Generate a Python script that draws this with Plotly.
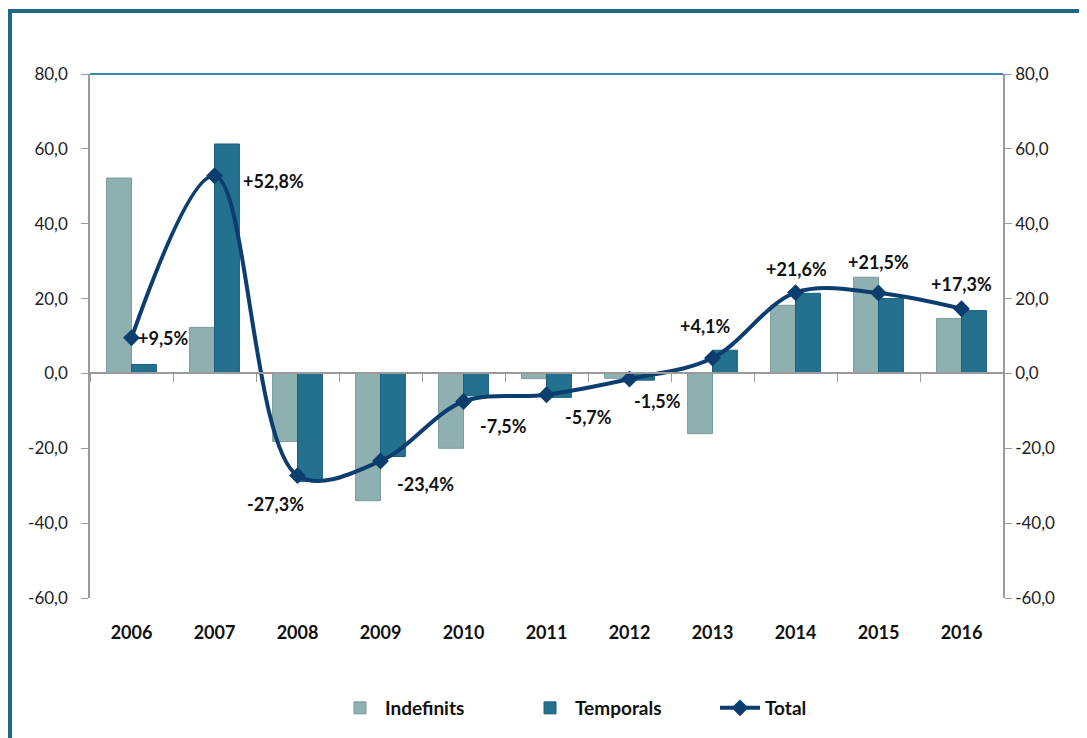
import plotly.graph_objects as go

years = ["2006", "2007", "2008", "2009", "2010", "2011", "2012", "2013", "2014", "2015", "2016"]
indefinits = [52.2, 12.3, -18.2, -34.0, -20.0, -1.4, -1.3, -16.1, 18.2, 25.7, 14.7]
temporals = [2.4, 61.3, -28.9, -22.2, -6.0, -6.4, -1.8, 6.2, 21.4, 20.0, 16.8]
total = [9.5, 52.8, -27.3, -23.4, -7.5, -5.7, -1.5, 4.1, 21.6, 21.5, 17.3]
total_labels = ["+9,5%", "+52,8%", "-27,3%", "-23,4%", "-7,5%", "-5,7%", "-1,5%",
                "+4,1%", "+21,6%", "+21,5%", "+17,3%"]
y_ticks = [80, 60, 40, 20, 0, -20, -40, -60]
y_tick_text = ["80,0", "60,0", "40,0", "20,0", "0,0", "-20,0", "-40,0", "-60,0"]

# label placement styles (anchor, shifts)
label_style = [
    ("left", 4, 0), ("left", 26, -5), ("center", -22, -28), ("left", 14, -23),
    ("left", 14, -24), ("left", 16, -22), ("left", 2, -22), ("center", -7, 32),
    ("center", 1, 24), ("center", 0, 31), ("center", 0, 25),
]

fig = go.Figure()
fig.add_trace(go.Bar(x=years, y=indefinits, name="Indefinits",
                     marker=dict(color="#8fb0b0", line=dict(color="#7a9c9c", width=1))))
fig.add_trace(go.Bar(x=years, y=temporals, name="Temporals",
                     marker=dict(color="#23708f", line=dict(color="#1c5f7a", width=1))))
fig.add_trace(go.Scatter(x=years, y=total, name="Total", xaxis="x2", yaxis="y2",
                         mode="lines+markers",
                         line=dict(color="#0b3d6f", width=4, shape="spline", smoothing=1.0),
                         marker=dict(symbol="diamond", size=13, color="#0b3d6f")))

font_family = "Lato, 'Liberation Sans', sans-serif"
annotations = []
# category axis: annotation x given as category index
for i, (v, txt, (anc, dx, dy)) in enumerate(zip(total, total_labels, label_style)):
    annotations.append(dict(x=i, y=v, xref="x", yref="y", text="<b>" + txt + "</b>",
                            showarrow=False, xanchor=anc, yanchor="middle",
                            xshift=dx, yshift=dy,
                            font=dict(family=font_family, size=18, color="#111111")))

cat_range = [-0.5, len(years) - 0.5]

# page body has an 8px margin: plot area should land at x 90..1003, y 74..598
L, T, R, B = 82, 66, 92, 148
plot_w = 1087 - L - R
plot_h = 738 - T - B

fig.update_layout(
    width=1087, height=738,
    margin=dict(l=L, r=R, t=T, b=B, autoexpand=False),
    paper_bgcolor="white", plot_bgcolor="white",
    barmode="group", bargap=0.4, bargroupgap=0.0,
    font=dict(family=font_family, size=16, color="#222222"),
    xaxis=dict(type="category", range=cat_range, showline=False, ticks="", showgrid=False,
               zeroline=False, ticklabelstandoff=22,
               tickfont=dict(family=font_family, size=18, color="#111111", weight="bold")),
    xaxis2=dict(type="category", range=cat_range, overlaying="x", anchor="free",
                position=60 / 140,
                showline=True, linecolor="#9a9a9a", linewidth=1.5,
                ticks="outside", ticklen=8, tickcolor="#9a9a9a", tickson="boundaries",
                showticklabels=False, showgrid=False, zeroline=False),
    yaxis=dict(range=[-60, 80], tickvals=y_ticks, ticktext=y_tick_text, showgrid=False,
               zeroline=False, showline=True, linecolor="#9a9a9a", linewidth=1.5,
               ticks="outside", ticklen=7, tickcolor="#9a9a9a", ticklabelstandoff=10,
               tickfont=dict(family=font_family, size=17, color="#222222")),
    yaxis2=dict(range=[-60, 80], tickvals=y_ticks, ticktext=y_tick_text, overlaying="y",
                side="right", showgrid=False, zeroline=False, showline=True,
                linecolor="#9a9a9a", linewidth=1.5, ticks="outside", ticklen=7,
                tickcolor="#9a9a9a",
                tickfont=dict(family=font_family, size=17, color="#222222")),
    legend=dict(orientation="h", x=(335 - 90) / plot_w, xanchor="left",
                y=(598 - 708) / plot_h, yanchor="middle",
                font=dict(family=font_family, size=19, color="#111111", weight="bold"),
                itemwidth=40, entrywidth=135, entrywidthmode="pixels"),
    annotations=annotations,
    shapes=[
        dict(type="line", xref="paper", yref="paper", x0=0, x1=1, y0=1, y1=1,
             line=dict(color="#3d88ab", width=2)),
        dict(type="rect", xref="paper", yref="paper", x0=(10 - 90) / plot_w, x1=1.3,
             y0=-0.5, y1=(598 - 11) / plot_h, line=dict(color="#1f6a8a", width=4),
             fillcolor="rgba(0,0,0,0)", layer="below"),
    ],
    showlegend=True,
)

fig.write_html("out.html")
